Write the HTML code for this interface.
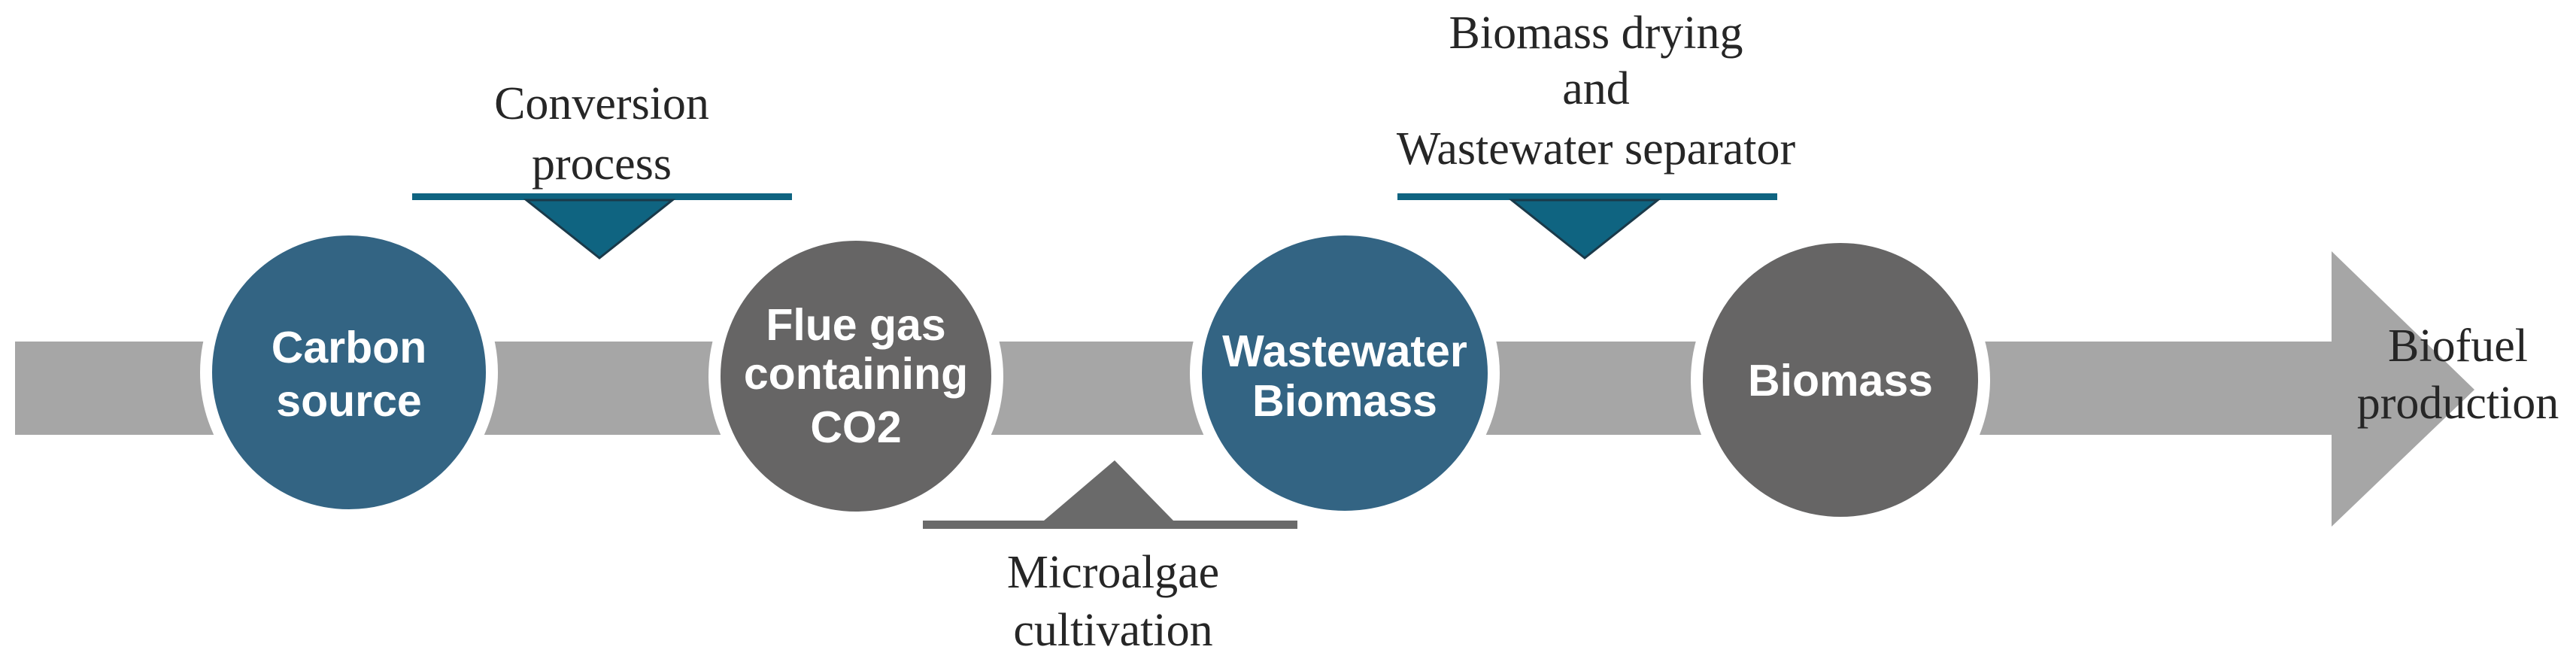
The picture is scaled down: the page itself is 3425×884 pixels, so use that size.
<!DOCTYPE html>
<html><head><meta charset="utf-8"><style>
html,body{margin:0;padding:0;background:#fff;}
svg{display:block;}
.s{font-family:"Liberation Serif",serif;fill:#262626;font-size:62px;text-anchor:middle;}
.c{font-family:"Liberation Sans",sans-serif;font-weight:bold;fill:#fff;font-size:59px;text-anchor:middle;}
</style></head><body>
<svg width="3425" height="884" viewBox="0 0 3425 884" xmlns="http://www.w3.org/2000/svg">
<rect x="0" y="0" width="3425" height="884" fill="#fff"/>
<!-- band -->
<rect x="20" y="454" width="3085" height="124" fill="#a6a6a6"/>
<polygon points="3100,334 3290,518 3100,700" fill="#a6a6a6"/>
<!-- top bars -->
<rect x="548" y="257" width="505" height="9" fill="#0f6481"/>
<polygon points="700,266 894,266 797,343" fill="#0f6481" stroke="#1a3a4a" stroke-width="3"/>
<rect x="1858" y="257" width="505" height="9" fill="#0f6481"/>
<polygon points="2010,266 2204,266 2107,343" fill="#0f6481" stroke="#1a3a4a" stroke-width="3"/>
<!-- bottom bar -->
<rect x="1227" y="692" width="498" height="11" fill="#6a6a6a"/>
<polygon points="1388,692 1560,692 1482,612" fill="#6a6a6a"/>
<!-- circles -->
<ellipse cx="464" cy="495" rx="190" ry="190" fill="#336483" stroke="#fff" stroke-width="16"/>
<ellipse cx="1138" cy="500" rx="188" ry="188" fill="#666565" stroke="#fff" stroke-width="16"/>
<ellipse cx="1788" cy="496" rx="198" ry="191" fill="#336483" stroke="#fff" stroke-width="16"/>
<ellipse cx="2447" cy="505" rx="191" ry="190" fill="#666565" stroke="#fff" stroke-width="16"/>
<!-- circle text -->
<text class="c" x="464" y="482">Carbon</text>
<text class="c" x="464" y="553">source</text>
<text class="c" x="1138" y="452">Flue gas</text>
<text class="c" x="1138" y="517">containing</text>
<text class="c" x="1138" y="588">CO2</text>
<text class="c" x="1788" y="487">Wastewater</text>
<text class="c" x="1788" y="553">Biomass</text>
<text class="c" x="2447" y="526">Biomass</text>
<!-- labels -->
<text class="s" x="800" y="158">Conversion</text>
<text class="s" x="800" y="238">process</text>
<text class="s" x="2122" y="64">Biomass drying</text>
<text class="s" x="2122" y="138">and</text>
<text class="s" x="2122" y="218">Wastewater separator</text>
<text class="s" x="1480" y="781">Microalgae</text>
<text class="s" x="1480" y="858">cultivation</text>
<text class="s" x="3268" y="480">Biofuel</text>
<text class="s" x="3268" y="556">production</text>
</svg>
</body></html>
